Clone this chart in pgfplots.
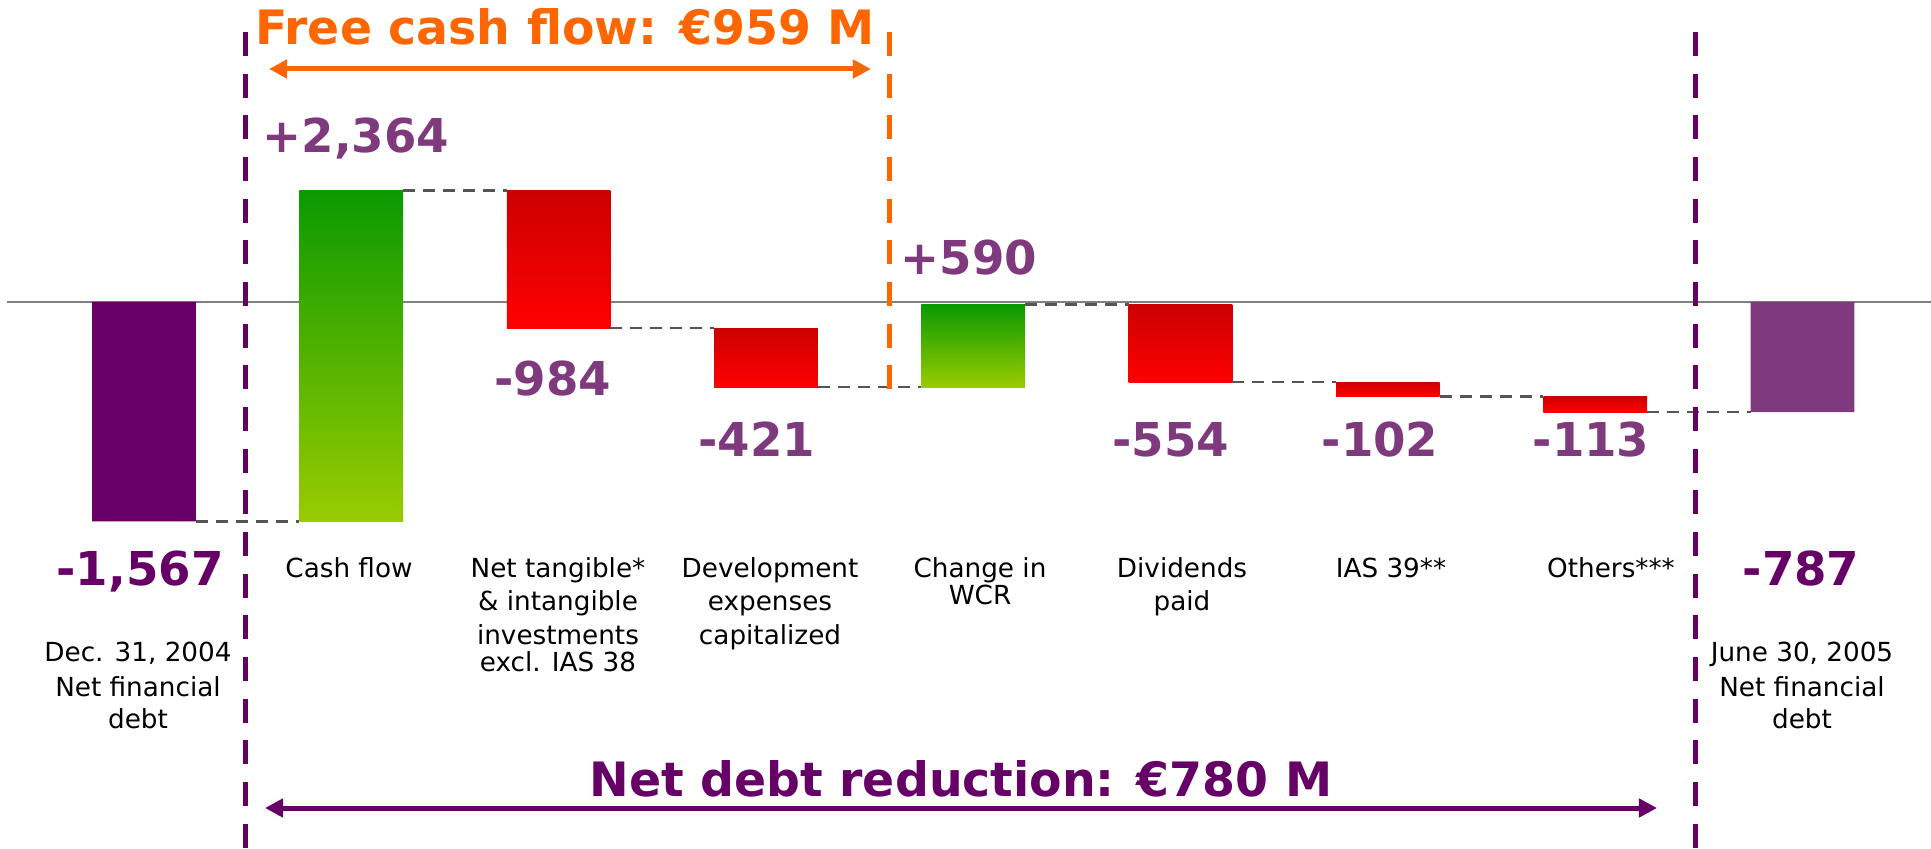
\documentclass[border=0pt]{standalone}
\usepackage{fontspec}
\setmainfont{DejaVu Sans}
\usepackage{pgfplots}
\pgfplotsset{compat=1.18}
\usetikzlibrary{arrows.meta}
\definecolor{dpurple}{HTML}{660066}
\definecolor{lpurple}{HTML}{7F3A7D}
\definecolor{forange}{HTML}{FF6600}
\definecolor{gtop}{HTML}{0A9900}
\definecolor{gbot}{HTML}{99CC00}
\definecolor{rtop}{HTML}{CC0000}
\definecolor{rbot}{HTML}{FF0000}
\definecolor{conn}{HTML}{555555}
\definecolor{zline}{HTML}{808080}
\newcommand{\catfont}{\fontsize{9.45}{11}\selectfont}
\newcommand{\bigfont}{\fontsize{16.8}{19}\selectfont\bfseries}
\newcommand{\titfont}{\fontsize{17.05}{20}\selectfont\bfseries}
\begin{document}
\begin{tikzpicture}
\useasboundingbox (0,0) rectangle (695.16pt,305.28pt);
\begin{axis}[
  at={(0,0)}, anchor=south west,
  scale only axis, width=695.16pt, height=305.28pt,
  xmin=-0.6946, xmax=8.620, ymin=-3898, ymax=2156,
  hide axis, clip=false,
]
% zero line
\addplot[zline, line width=0.75pt] coordinates {(-0.661,0) (8.62,0)};
% bars (cumulative levels: 0, -1567, 797, -187, -608, -18, -572, -674, -787)
\addplot[draw=none, fill=dpurple] coordinates {(-0.25,0) (0.25,0) (0.25,-1567) (-0.25,-1567) (-0.25,0)};
\addplot[draw=none, top color=gtop, bottom color=gbot] coordinates {(0.75,-1567) (1.25,-1567) (1.25,797) (0.75,797) (0.75,-1567)};
\addplot[draw=none, top color=rtop, bottom color=rbot] coordinates {(1.75,797) (2.25,797) (2.25,-187) (1.75,-187) (1.75,797)};
\addplot[draw=none, top color=rtop, bottom color=rbot] coordinates {(2.75,-187) (3.25,-187) (3.25,-608) (2.75,-608) (2.75,-187)};
\addplot[draw=none, top color=gtop, bottom color=gbot] coordinates {(3.75,-608) (4.25,-608) (4.25,-18) (3.75,-18) (3.75,-608)};
\addplot[draw=none, top color=rtop, bottom color=rbot] coordinates {(4.75,-18) (5.25,-18) (5.25,-572) (4.75,-572) (4.75,-18)};
\addplot[draw=none, top color=rtop, bottom color=rbot] coordinates {(5.75,-572) (6.25,-572) (6.25,-674) (5.75,-674) (5.75,-572)};
\addplot[draw=none, top color=rtop, bottom color=rbot] coordinates {(6.75,-674) (7.25,-674) (7.25,-787) (6.75,-787) (6.75,-674)};
\addplot[draw=none, fill=lpurple] coordinates {(7.75,0) (8.25,0) (8.25,-787) (7.75,-787) (7.75,0)};
% connectors
\pgfplotsset{every axis plot/.append style={}}
\addplot[conn, line width=0.9pt, dash pattern=on 4.3pt off 2.9pt] coordinates {(0.25,-1567) (0.75,-1567)};
\addplot[conn, line width=0.9pt, dash pattern=on 4.3pt off 2.9pt] coordinates {(1.25,797) (1.75,797)};
\addplot[conn, line width=0.9pt, dash pattern=on 4.3pt off 2.9pt] coordinates {(2.25,-187) (2.75,-187)};
\addplot[conn, line width=0.9pt, dash pattern=on 4.3pt off 2.9pt] coordinates {(3.25,-608) (3.75,-608)};
\addplot[conn, line width=0.9pt, dash pattern=on 4.3pt off 2.9pt] coordinates {(4.25,-18) (4.75,-18)};
\addplot[conn, line width=0.9pt, dash pattern=on 4.3pt off 2.9pt] coordinates {(5.25,-572) (5.75,-572)};
\addplot[conn, line width=0.9pt, dash pattern=on 4.3pt off 2.9pt] coordinates {(6.25,-674) (6.75,-674)};
\addplot[conn, line width=0.9pt, dash pattern=on 4.3pt off 2.9pt] coordinates {(7.25,-787) (7.75,-787)};
\end{axis}
\begin{scope}[x=0.36pt, y=-0.36pt, shift={(0pt,305.28pt)}]
% separators
\draw[dpurple, line width=1.8pt, dash pattern=on 8.6pt off 6.4pt] (245,32) -- (245,848);
\draw[dpurple, line width=1.8pt, dash pattern=on 8.6pt off 6.4pt] (1695,32) -- (1695,848);
\draw[forange, line width=1.8pt, dash pattern=on 8.6pt off 6.4pt] (889,32) -- (889,392);
% arrows
\draw[forange, line width=1.8pt, {Triangle[length=6.5pt,width=6.5pt]}-{Triangle[length=6.5pt,width=6.5pt]}] (269,69) -- (871,69);
\draw[dpurple, line width=1.8pt, {Triangle[length=6.5pt,width=6.5pt]}-{Triangle[length=6.5pt,width=6.5pt]}] (265,808) -- (1657,808);
% titles
\node[anchor=base, inner sep=0, text=forange, font=\titfont] at (565,45) {Free cash flow: €959 M};
\node[anchor=base, inner sep=0, text=dpurple, font=\titfont] at (961,796) {Net debt reduction: €780 M};
% values
\node[anchor=base west, inner sep=0, text=lpurple, font=\bigfont] at (262,153) {+2,364};
\node[anchor=base west, inner sep=0, text=lpurple, font=\bigfont] at (900,275) {+590};
\node[anchor=base, inner sep=0, text=lpurple, font=\bigfont] at (553,396) {-984};
\node[anchor=base, inner sep=0, text=lpurple, font=\bigfont] at (757,457) {-421};
\node[anchor=base, inner sep=0, text=lpurple, font=\bigfont] at (1171,457) {-554};
\node[anchor=base, inner sep=0, text=lpurple, font=\bigfont] at (1380,457) {-102};
\node[anchor=base, inner sep=0, text=lpurple, font=\bigfont] at (1591,457) {-113};
\node[anchor=base, inner sep=0, text=dpurple, font=\bigfont] at (140,585) {-1,567};
\node[anchor=base, inner sep=0, text=dpurple, font=\bigfont] at (1801,585) {-787};
% category labels
\begin{scope}[every node/.style={anchor=base, inner sep=0, font=\catfont}]
\node at (138,661) {Dec. 31, 2004};
\node at (138,696) {Net financial};
\node at (138,728) {debt};
\node at (349,577) {Cash flow};
\node at (558,577) {Net tangible*};
\node at (558,610) {\& intangible};
\node at (558,644) {investments};
\node at (558,671) {excl. IAS 38};
\node at (770,577) {Development};
\node at (770,610) {expenses};
\node at (770,644) {capitalized};
\node at (980,577) {Change in};
\node at (980,604) {WCR};
\node at (1182,577) {Dividends};
\node at (1182,610) {paid};
\node at (1391,577) {IAS 39**};
\node at (1611,577) {Others***};
\node at (1802,661) {June 30, 2005};
\node at (1802,696) {Net financial};
\node at (1802,728) {debt};
\end{scope}
\end{scope}
\end{tikzpicture}
\end{document}
